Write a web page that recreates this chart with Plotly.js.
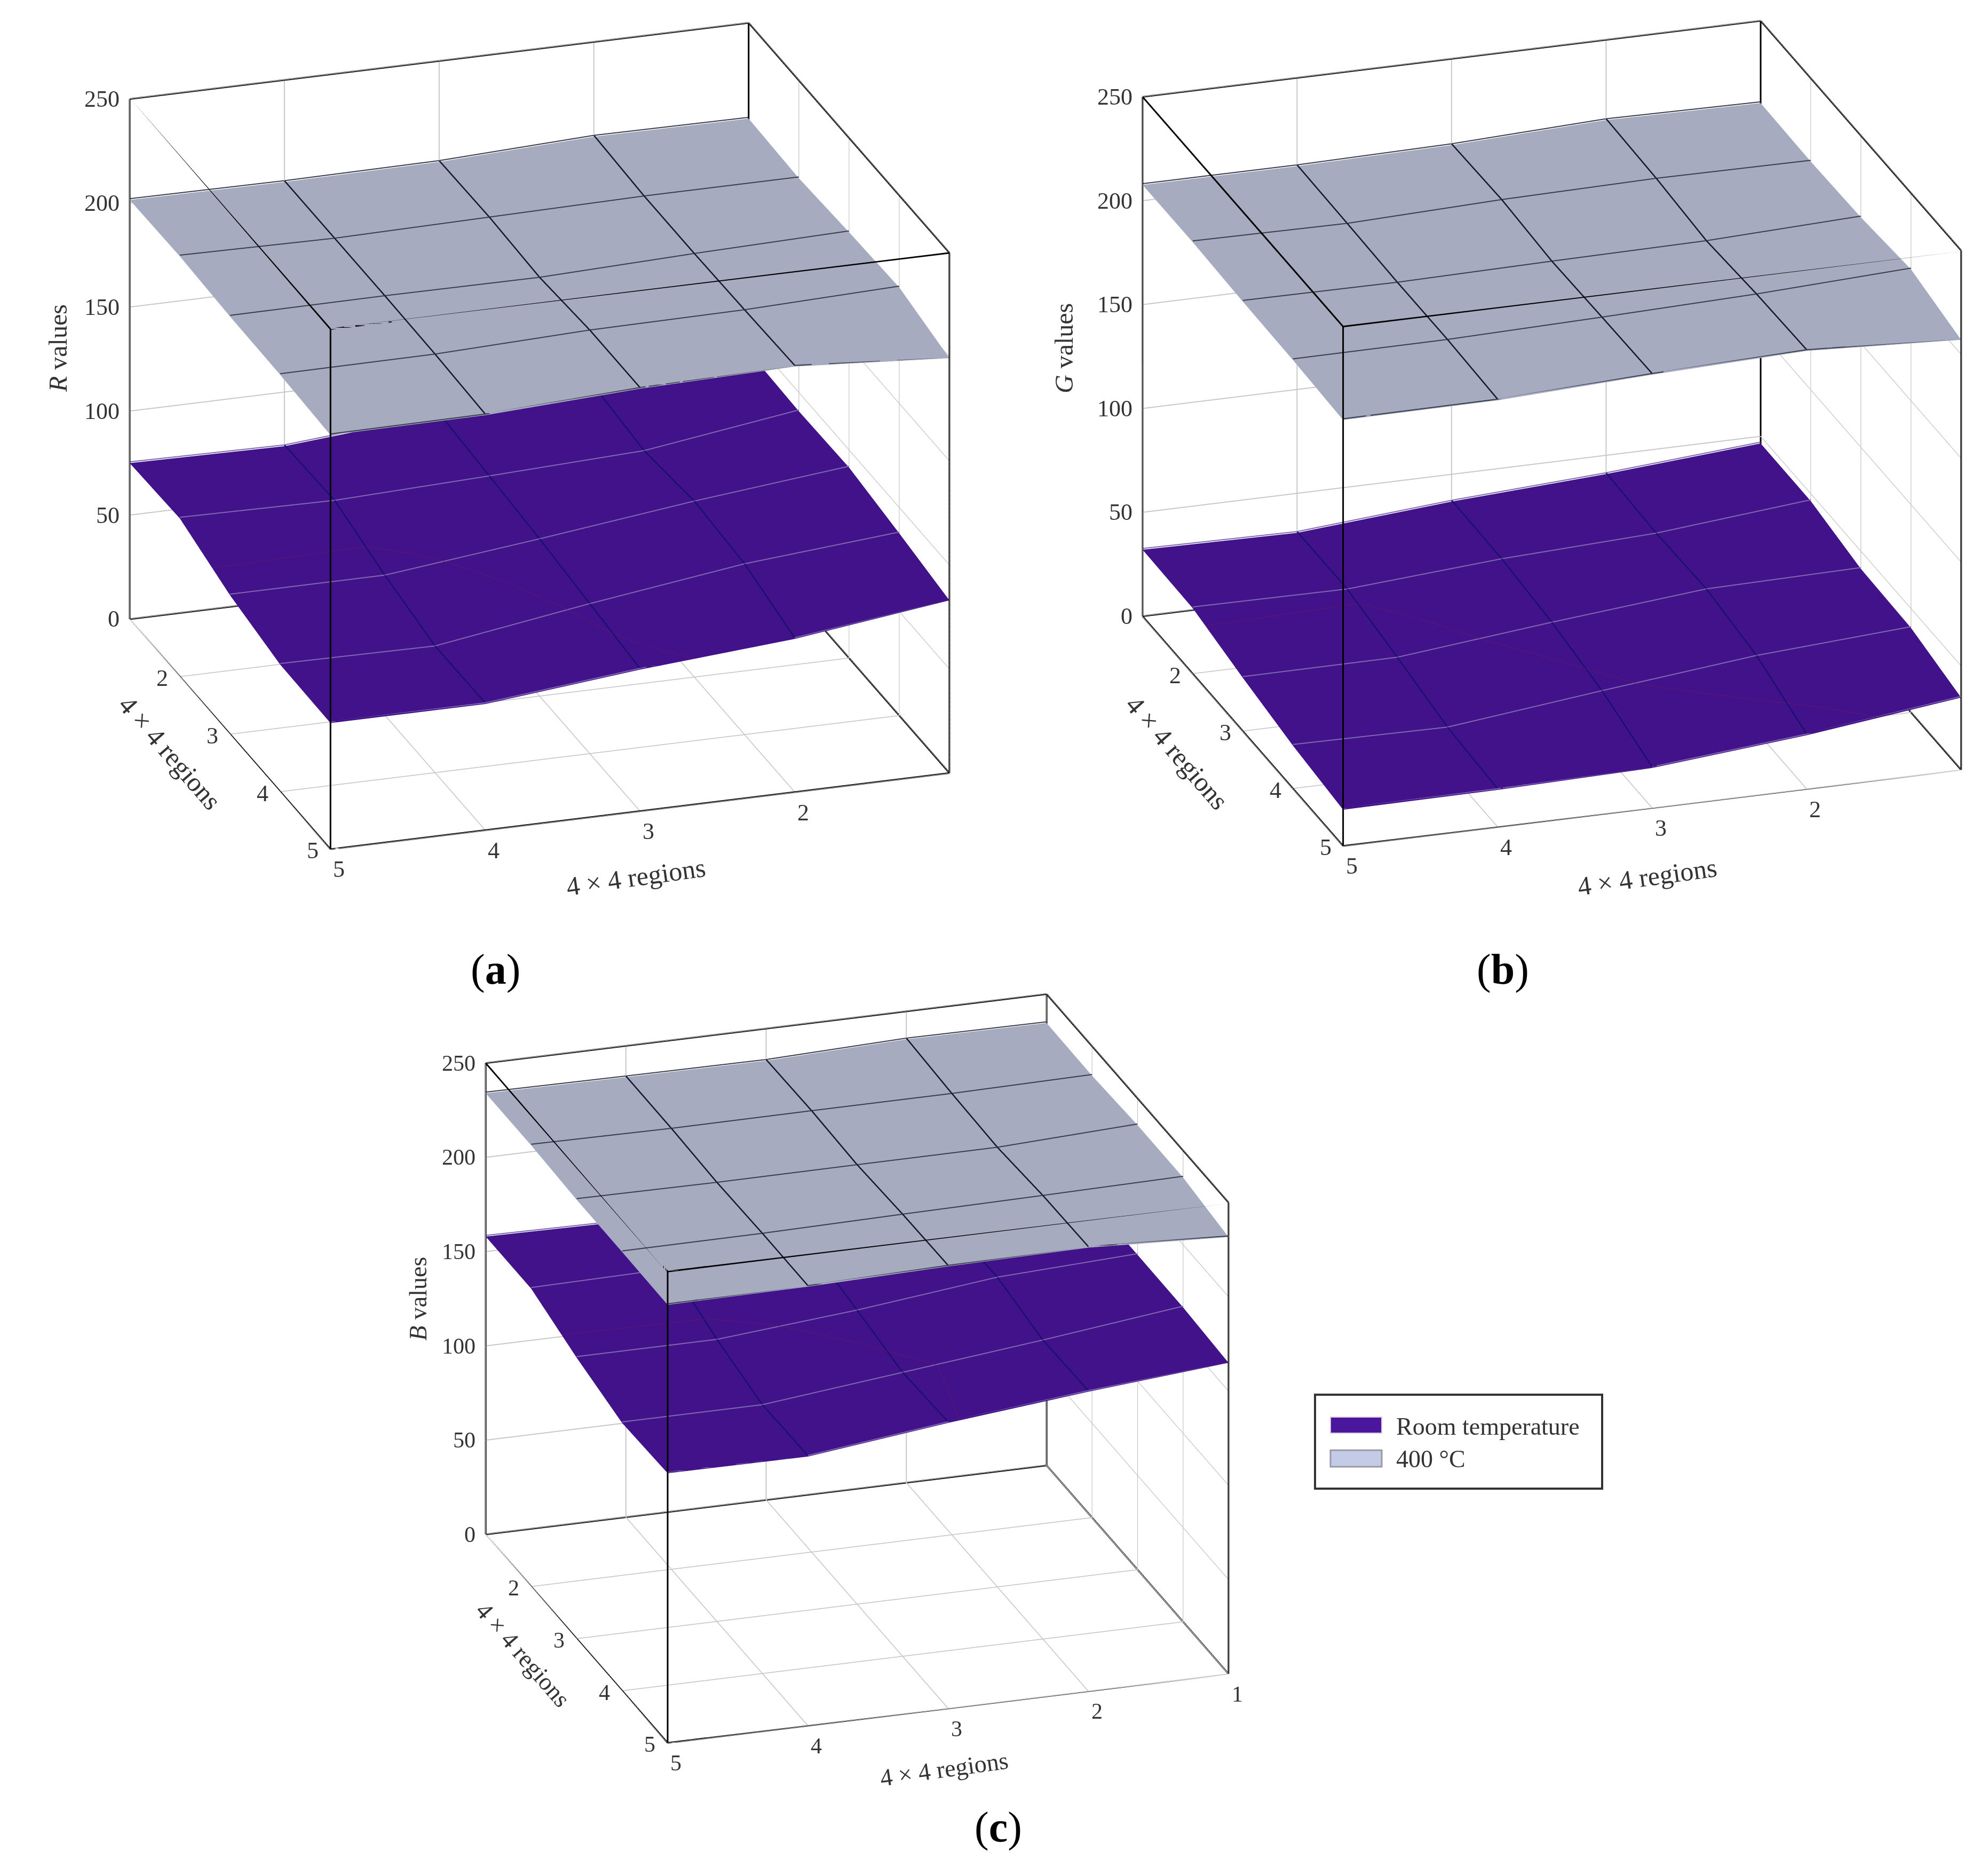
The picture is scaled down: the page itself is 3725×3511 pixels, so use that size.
<!DOCTYPE html>
<html><head><meta charset="utf-8"><script src="https://cdn.plot.ly/plotly-3.0.1.min.js"></script>
<style>html,body{margin:0;padding:0;background:#fff;overflow:hidden}#p{width:3725px;height:3511px}</style></head>
<body><div id="p"></div><script>
const xRegions=[5,4,3,2,1];
const yRegions=[1,2,3,4,5];
const tickRegions=[5,4,3,2];
const tickRegionsAll=[5,4,3,2,1];
const zTicks=[0,50,100,150,200,250];
const xRange=[1,5],yRange=[1,5],zRange=[0,250];
const R_room=[[75,74,80,84,92],[76,75,77.6,80.6,91],[66.7,66.7,75,84,91.6],[61,60.3,71.5,81.5,87.6],[60.6,60.6,68,73.6,83]];
const R_400=[[201.5,201,201.5,204.5,204],[202,201,202,203,203],[200.7,201,200.7,203,204.7],[200.3,200.6,203,203.6,205.8],[199,199.4,203,204.5,199.4]];
const G_room=[[32,31,36.9,41,46.6],[31.5,31,36.4,39.6,46.5],[25.6,25.8,33.5,40.4,41.5],[20.6,19.8,28.2,36,40.7],[17.4,17.8,19.2,25.8,34.8]];
const G_400=[[207.6,207.5,208.5,211.4,210.4],[207.7,207,209.3,210.4,209.9],[206.7,206.3,207.3,208,210.7],[206.2,206.4,208,210,213.3],[205,205.3,208.5,210.8,207]];
const B_room=[[158,157,158,162,168],[158,159,160,163,167],[149,149,155.4,163.7,167],[142,142,150,158,166.8],[143,142.7,151.4,158.8,165]];
const B_400=[[234,233.4,233,235.2,234.7],[234,233.3,233.5,233.5,234.4],[232.8,232.3,232.5,232.6,235.8],[232.7,232.9,233.9,234.7,235.7],[232.3,232.8,234.4,235.2,231.7]];
const W=3725,H=3511;
const dir=[0.2887,0.881,0.3754];
const right=[-0.9503,0.3114,0];
const up=[-0.1084,-0.3308,0.9274];
const FONT='Liberation Serif',INK='#333';
const PURPLE='#41128a',LIGHT='#a6abc0';
const LIFT=0.6;
function surf(z,color,name,scene,lvl){return {type:'surface',x:xRegions,y:yRegions,z:z,scene:scene,name:name,showlegend:false,showscale:false,
 colorscale:[[0,color],[1,color]],lighting:{ambient:1,diffuse:0,specular:0,roughness:1,fresnel:0},
 contours:{x:{show:false},y:{show:false},z:lvl?{show:true,start:lvl,end:lvl+1,size:2,color:'#7a1a50',width:2}:{show:false}},hoverinfo:'skip'};}
function rows(z,scene,color){
 const X=[],Y=[],Z=[];
 yRegions.forEach((y,j)=>{xRegions.forEach((x,i)=>{X.push(x);Y.push(y);Z.push(z[j][i]+LIFT);});X.push(null);Y.push(null);Z.push(null);});
 return {type:'scatter3d',mode:'lines',x:X,y:Y,z:Z,scene:scene,showlegend:false,hoverinfo:'skip',line:{color:color,width:4}};}
function cols(z,scene,color){
 const X=[],Y=[],Z=[];
 xRegions.forEach((x,i)=>{if(i===0||i===xRegions.length-1)return;yRegions.forEach((y,j)=>{X.push(x);Y.push(y);Z.push(z[j][i]+LIFT);});X.push(null);Y.push(null);Z.push(null);});
 return {type:'scatter3d',mode:'lines',x:X,y:Y,z:Z,scene:scene,showlegend:false,hoverinfo:'skip',line:{color:color,width:5}};}
function box(scene){
 const X=[],Y=[],Z=[];
 const add=(a,b)=>{X.push(a[0],b[0],null);Y.push(a[1],b[1],null);Z.push(a[2],b[2],null);};
 for(const i of xRange)for(const j of yRange)add([i,j,zRange[0]],[i,j,zRange[1]]);
 for(const i of xRange)for(const k of zRange)add([i,yRange[0],k],[i,yRange[1],k]);
 for(const j of yRange)for(const k of zRange)add([xRange[0],j,k],[xRange[1],j,k]);
 return {type:'scatter3d',mode:'lines',x:X,y:Y,z:Z,scene:scene,showlegend:false,hoverinfo:'skip',line:{color:'#000',width:6}};
}
function pair(room,hot,s,l){return [surf(room,PURPLE,'Room temperature',s,l),surf(hot,LIGHT,'400 °C',s),
 rows(room,s,'#7f68b0'),cols(room,s,'#1a1070'),rows(hot,s,'#3a3d4c'),cols(hot,s,'#15182a'),box(s)];}
const data=[].concat(pair(R_room,R_400,'scene',70),pair(G_room,G_400,'scene2',30),pair(B_room,B_400,'scene3',152));
function axis(vals){return {title:{text:''},tickvals:vals,ticktext:vals.map(String),showticklabels:false,
 showgrid:true,gridcolor:'#c8c8c8',gridwidth:4,zeroline:false,showline:false,showbackground:false,showspikes:false,ticks:'',autorange:false};}
function tickNotes(xt,size){
 const f={family:FONT,size:size,color:INK};
 const base={showarrow:false,font:f};
 return xt.map(v=>Object.assign({x:v,y:yRange[1],z:zRange[0],text:String(v),xanchor:'center',yanchor:'middle',xshift:16,yshift:-38},base))
  .concat(tickRegions.map(v=>Object.assign({x:xRange[1],y:v,z:zRange[0],text:String(v),xanchor:'center',yanchor:'middle',xshift:-33,yshift:-3},base)))
  .concat(zTicks.map(v=>Object.assign({x:xRange[1],y:yRange[0],z:v,text:String(v),xanchor:'right',yanchor:'middle',xshift:-17,yshift:0},base)));
}
function scene(px,boxc,sc,xt,size){
 const cx=(px[0]+px[1])/2,cy=(px[2]+px[3])/2;
 const ppu=0.4945*(px[3]-px[2]);
 const dr=(cx-boxc[0])/ppu,du=(cy-boxc[1])/ppu;
 const c=[0,1,2].map(i=>right[i]*dr+up[i]*(-du));
 const e=2;
 return {domain:{x:[px[0]/W,px[1]/W],y:[1-px[3]/H,1-px[2]/H]},aspectmode:'manual',aspectratio:{x:1.01*sc,y:1*sc,z:0.87*sc},
  camera:{projection:{type:'orthographic'},up:{x:0,y:0,z:1},center:{x:c[0],y:c[1],z:c[2]},eye:{x:c[0]+dir[0]*e,y:c[1]+dir[1]*e,z:c[2]+dir[2]*e}},
  annotations:tickNotes(xt,size),
  xaxis:Object.assign(axis(xt),{range:xRange}),yaxis:Object.assign(axis(tickRegions),{range:yRange}),zaxis:Object.assign(axis(zTicks),{range:zRange})};}
function note(x,y,t,size,ang,col){return {xref:'paper',yref:'paper',x:x/W,y:1-y/H,xanchor:'center',yanchor:'middle',text:t,showarrow:false,textangle:ang||0,font:{family:FONT,size:size,color:col||INK}};}
const S=2.374;
const titles=[[46,275,'<i>R</i> values',48,-90],[134,594,'4 × 4 regions',50,49],[502,692,'4 × 4 regions',50,-8],
 [840,275,'<i>G</i> values',48,-90],[929,594,'4 × 4 regions',50,49],[1300,692,'4 × 4 regions',50,-8],
 [330,1025,'<i>B</i> values',46,-90],[413,1306,'4 × 4 regions',46,49],[745,1396,'4 × 4 regions',46,-8]];
const panels=[[391,765,'(<b>a</b>)'],[1186,765,'(<b>b</b>)'],[788,1442,'(<b>c</b>)']];
const legendItems=[[2672,'Room temperature'],[2733,'400 °C']];
const rect=(x0,x1,y0,y1,fill,lc,lw)=>({type:'rect',xref:'paper',yref:'paper',x0:x0/W,x1:x1/W,y0:1-y0/H,y1:1-y1/H,fillcolor:fill,line:{color:lc,width:lw}});
const layout={width:W,height:H,paper_bgcolor:'#fff',margin:{l:0,r:0,t:0,b:0},showlegend:false,
 scene:scene([0,2022,0,1740],[1011,817],1.389,tickRegions,44),
 scene2:scene([1950,3725,0,1740],[2907,812],1.387,tickRegions,44),
 scene3:scene([780,2432,1850,3400],[1606,2564],1.413,tickRegionsAll,42),
 shapes:[rect(2464,3002,2613,2789,'#fff','#333',4),rect(2493,2589,2655,2685,'#4a169c','#d8c8e8',2),rect(2493,2589,2717,2748,'#c3cbe6','#9a9aa5',3)],
 annotations:titles.map(t=>note(t[0]*S,t[1]*S,t[2],t[3],t[4])).concat(panels.map(a=>note(a[0]*S,a[1]*S,a[2],80,0,'#000')),
  legendItems.map(l=>Object.assign(note(2614,l[0],l[1],46),{xanchor:'left'})))};
window.addEventListener('load',()=>setTimeout(()=>Plotly.newPlot('p',data,layout,{displayModeBar:false,scrollZoom:false}),0));
</script></body></html>
